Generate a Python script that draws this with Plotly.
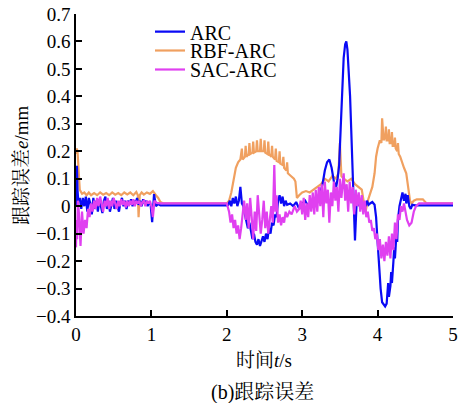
import plotly.graph_objects as go

# ---------------- data ----------------
arc_t = [0.00, 0.012, 0.02, 0.03, 0.05, 0.07, 0.09, 0.11, 0.13, 0.15, 0.17, 0.19, 0.21, 0.23, 0.25, 0.27,
         0.29, 0.31, 0.33, 0.35, 0.37, 0.39, 0.41, 0.43, 0.45, 0.47, 0.49, 0.51, 0.53, 0.55, 0.57, 0.59,
         0.61, 0.63, 0.65, 0.67, 0.69, 0.71, 0.73, 0.75, 0.77, 0.79, 0.81, 0.83, 0.85, 0.87, 0.89, 0.91,
         0.93, 0.95, 0.97, 0.99, 1.01, 1.035, 1.06, 1.09, 1.12,
         2.00, 2.02, 2.04, 2.06, 2.08, 2.10, 2.12, 2.14, 2.16, 2.18, 2.20, 2.22, 2.24, 2.26, 2.28, 2.30,
         2.32, 2.34, 2.36, 2.38, 2.40, 2.42, 2.44, 2.46, 2.48, 2.50, 2.52, 2.54, 2.56, 2.58, 2.60, 2.62,
         2.64, 2.66, 2.68, 2.70, 2.72, 2.74, 2.76, 2.78, 2.80, 2.84, 2.88, 2.92, 2.96, 3.00, 3.04, 3.08,
         3.12, 3.16, 3.20, 3.24, 3.27, 3.30, 3.33, 3.36, 3.39, 3.42, 3.45, 3.47, 3.49, 3.51, 3.53, 3.55,
         3.57, 3.585, 3.60, 3.62, 3.635, 3.65, 3.665, 3.68, 3.69, 3.70, 3.71, 3.72, 3.74, 3.76, 3.78, 3.80,
         3.82, 3.84, 3.86, 3.88, 3.90, 3.93, 3.96, 3.98, 4.00, 4.02, 4.04, 4.06, 4.08, 4.10, 4.12, 4.13,
         4.14, 4.15, 4.17, 4.18, 4.19, 4.21, 4.22, 4.23, 4.25, 4.26, 4.27, 4.29, 4.31, 4.33, 4.35, 4.37,
         4.38, 4.40, 4.42, 4.44, 4.46, 4.50, 4.60, 5.00]
arc_v = [0.00, 0.147, 0.06, 0.02, 0.03, -0.01, 0.03, 0.00, 0.035, -0.02, 0.03, 0.01, -0.03, 0.03, -0.01, 0.02,
         -0.02, 0.025, 0.00, -0.025, 0.02, 0.035, -0.01, 0.02, -0.02, 0.01, 0.03, -0.01, 0.02, 0.00, -0.02, 0.015,
         0.03, 0.00, 0.02, -0.01, 0.02, 0.005, 0.025, 0.00, 0.02, 0.01, 0.03, 0.005, 0.02, 0.00, 0.025, 0.01,
         0.02, 0.00, 0.015, 0.005, -0.058, 0.044, 0.00, 0.008, 0.003,
         0.003, 0.005, 0.02, 0.00, 0.03, 0.01, 0.035, 0.00, 0.02, 0.07, 0.01, 0.00, -0.03, -0.05, -0.08, -0.06,
         -0.10, -0.12, -0.10, -0.13, -0.14, -0.12, -0.145, -0.13, -0.11, -0.13, -0.10, -0.12, -0.08, -0.10, -0.06, -0.07,
         -0.03, -0.04, 0.02, 0.04, 0.01, 0.035, 0.00, 0.02, 0.005, 0.01, 0.00, 0.015, -0.01, 0.01, 0.02, 0.00,
         0.015, 0.01, 0.02, 0.05, 0.08, 0.13, 0.16, 0.17, 0.14, 0.09, 0.07, 0.10, 0.15, 0.28, 0.42, 0.54,
         0.59, 0.60, 0.57, 0.48, 0.40, 0.28, 0.14, 0.00, -0.08, -0.125, -0.06, 0.00, 0.02, 0.00, 0.015, -0.01,
         0.01, 0.00, 0.02, 0.005, 0.01, 0.015, 0.005, -0.04, -0.13, -0.22, -0.30, -0.35, -0.36, -0.365, -0.355, -0.33,
         -0.28, -0.33, -0.29, -0.24, -0.28, -0.20, -0.15, -0.19, -0.10, -0.13, -0.05, 0.00, 0.03, 0.05, 0.02, 0.045,
         0.01, 0.04, 0.00, -0.01, 0.005, 0.003, 0.003, 0.003]

rbf_t = [0.00, 0.01, 0.02, 0.035, 0.05, 0.08, 0.11, 0.14, 0.17, 0.20, 0.24, 0.28, 0.32, 0.36, 0.40, 0.44,
         0.48, 0.52, 0.56, 0.60, 0.64, 0.68, 0.72, 0.76, 0.80, 0.82, 0.83, 0.845, 0.87, 0.90, 0.94, 0.98,
         1.02, 1.06, 1.09, 1.12, 1.16,
         2.00, 2.03, 2.06, 2.09, 2.12, 2.15, 2.18, 2.20, 2.21, 2.24, 2.25, 2.26, 2.29, 2.30, 2.31, 2.34,
         2.35, 2.36, 2.39, 2.40, 2.41, 2.44, 2.45, 2.46, 2.49, 2.50, 2.51, 2.54, 2.55, 2.56, 2.59, 2.60,
         2.61, 2.64, 2.65, 2.66, 2.69, 2.70, 2.71, 2.74, 2.75, 2.76, 2.79, 2.80, 2.81, 2.85, 2.89, 2.91,
         2.93, 2.96, 3.00, 3.05, 3.10, 3.15, 3.20, 3.25, 3.30, 3.35, 3.40, 3.45, 3.48, 3.50, 3.52, 3.55,
         3.60, 3.65, 3.70, 3.75, 3.79, 3.82, 3.84, 3.87, 3.90, 3.93, 3.96, 3.98, 4.00, 4.03, 4.05, 4.06,
         4.08, 4.10, 4.11, 4.12, 4.14, 4.15, 4.16, 4.18, 4.19, 4.20, 4.22, 4.23, 4.24, 4.26, 4.27, 4.28,
         4.30, 4.32, 4.35, 4.38, 4.41, 4.43, 4.45, 4.48, 4.52, 4.60, 4.65, 4.68, 5.00]
rbf_v = [0.19, 0.21, 0.20, 0.10, 0.06, 0.045, 0.05, 0.04, 0.05, 0.04, 0.048, 0.04, 0.05, 0.042, 0.048, 0.04,
         0.05, 0.042, 0.048, 0.04, 0.05, 0.043, 0.05, 0.04, 0.052, 0.04, -0.04, 0.04, 0.05, 0.042, 0.05, 0.045,
         0.055, 0.04, 0.03, 0.015, 0.01,
         0.01, 0.02, 0.05, 0.10, 0.14, 0.16, 0.17, 0.21, 0.17, 0.18, 0.22, 0.18, 0.19, 0.23, 0.19, 0.195,
         0.235, 0.195, 0.20, 0.24, 0.20, 0.20, 0.245, 0.20, 0.20, 0.24, 0.195, 0.19, 0.235, 0.19, 0.18, 0.22,
         0.18, 0.17, 0.21, 0.165, 0.16, 0.20, 0.155, 0.15, 0.18, 0.14, 0.13, 0.16, 0.12, 0.11, 0.10, 0.09,
         0.03, 0.04, 0.05, 0.055, 0.05, 0.06, 0.07, 0.08, 0.10, 0.09, 0.11, 0.10, 0.12, 0.23, 0.11, 0.10,
         0.09, 0.10, 0.08, 0.07, 0.06, 0.01, -0.02, 0.02, 0.05, 0.07, 0.12, 0.18, 0.21, 0.24, 0.23, 0.32,
         0.24, 0.25, 0.29, 0.24, 0.24, 0.28, 0.23, 0.23, 0.27, 0.22, 0.22, 0.25, 0.21, 0.20, 0.23, 0.19,
         0.18, 0.16, 0.14, 0.12, 0.06, 0.02, 0.01, 0.02, 0.025, 0.025, 0.01, 0.01, 0.01]

sac_t = [0.00, 0.008, 0.015, 0.025, 0.04, 0.06, 0.08, 0.10, 0.12, 0.14, 0.16, 0.18, 0.20, 0.22, 0.24, 0.26,
         0.28, 0.30, 0.32, 0.34, 0.36, 0.38, 0.40, 0.42, 0.44, 0.46, 0.48, 0.50, 0.52, 0.54, 0.56, 0.58,
         0.60, 0.62, 0.64, 0.66, 0.68, 0.70, 0.72, 0.74, 0.76, 0.78, 0.80, 0.82, 0.84, 0.86, 0.88, 0.90,
         0.92, 0.94, 0.96, 0.98, 1.00, 1.02, 1.04, 1.07, 1.12,
         2.00, 2.03, 2.05, 2.07, 2.09, 2.11, 2.13, 2.15, 2.17, 2.19, 2.21, 2.23, 2.25, 2.27, 2.29, 2.31,
         2.33, 2.35, 2.37, 2.39, 2.41, 2.43, 2.45, 2.47, 2.49, 2.51, 2.53, 2.55, 2.57, 2.59, 2.61, 2.63,
         2.645, 2.66, 2.68, 2.70, 2.72, 2.74, 2.76, 2.78, 2.80, 2.83, 2.86, 2.90, 2.93, 2.96, 2.98, 3.00,
         3.02, 3.04, 3.06, 3.08, 3.10, 3.12, 3.14, 3.16, 3.18, 3.20, 3.22, 3.24, 3.26, 3.28, 3.30, 3.32,
         3.34, 3.36, 3.38, 3.40, 3.42, 3.44, 3.46, 3.48, 3.50, 3.52, 3.55, 3.57, 3.59, 3.61, 3.63, 3.65,
         3.67, 3.69, 3.71, 3.73, 3.75, 3.77, 3.79, 3.81, 3.83, 3.85, 3.87, 3.89, 3.91, 3.93, 3.95, 3.97,
         3.99, 4.01, 4.03, 4.05, 4.07, 4.09, 4.11, 4.13, 4.15, 4.17, 4.19, 4.21, 4.23, 4.25, 4.27, 4.29,
         4.31, 4.33, 4.35, 4.37, 4.39, 4.42, 4.45, 4.48, 4.51, 4.55, 5.00]
sac_v = [-0.15, -0.05, -0.12, 0.02, -0.03, -0.145, -0.02, -0.10, -0.05, -0.08, -0.01, -0.04, 0.01, -0.02, 0.02, -0.01,
         0.03, 0.00, 0.035, 0.01, -0.02, 0.02, 0.00, 0.03, -0.01, 0.02, 0.00, 0.03, 0.01, -0.01, 0.02, 0.00,
         0.025, 0.005, 0.02, -0.005, 0.02, 0.00, 0.02, 0.005, 0.025, 0.00, 0.02, 0.01, 0.02, 0.00, 0.015, 0.02,
         0.00, 0.02, 0.01, 0.02, 0.00, -0.04, 0.02, 0.012, 0.01,
         0.01, -0.02, -0.06, -0.03, -0.08, -0.05, -0.10, -0.07, -0.12, -0.08, -0.04, 0.02, -0.05, 0.01, -0.08, 0.03,
         -0.04, -0.12, -0.02, -0.09, 0.04, -0.03, -0.10, -0.05, 0.02, -0.08, -0.02, -0.10, -0.04, 0.00, -0.06, 0.15,
         -0.02, 0.04, -0.06, -0.03, -0.07, -0.04, -0.06, -0.02, -0.04, -0.02, -0.03, 0.00, -0.02, -0.01, 0.02, -0.03,
         0.03, -0.05, 0.01, -0.04, 0.04, -0.02, 0.05, -0.03, 0.06, -0.02, 0.07, 0.00, 0.08, -0.04, 0.09, 0.01,
         0.06, -0.06, 0.05, 0.00, 0.09, 0.02, 0.07, -0.02, 0.10, 0.03, 0.12, 0.02, 0.08, -0.02, 0.09, 0.01,
         0.07, -0.03, 0.06, 0.00, 0.05, -0.02, 0.04, -0.03, 0.02, -0.04, -0.02, -0.06, -0.05, -0.09, -0.08, -0.12,
         -0.10, -0.16, -0.12, -0.19, -0.14, -0.20, -0.13, -0.18, -0.11, -0.19, -0.10, -0.16, -0.06, -0.12, -0.03, -0.05,
         0.00, -0.02, 0.01, -0.02, -0.05, -0.07, -0.06, -0.02, 0.00, 0.01, 0.01]

x_ticks = [0, 1, 2, 3, 4, 5]
y_ticks = [0.7, 0.6, 0.5, 0.4, 0.3, 0.2, 0.1, 0, -0.1, -0.2, -0.3, -0.4]
y_tick_text = ["0.7", "0.6", "0.5", "0.4", "0.3", "0.2", "0.1", "0", "\u22120.1", "\u22120.2", "\u22120.3", "\u22120.4"]

series_names = ["ARC", "RBF-ARC", "SAC-ARC"]
x_title = "时间<i>t</i>/s"
y_title = "跟踪误差<i>e</i>/mm"
caption = "(b)跟踪误差"

# ---------------- figure ----------------
SERIF = "Liberation Serif, Noto Serif CJK SC, Noto Sans CJK SC, serif"
COL = {"ARC": "#0a0af5", "RBF-ARC": "#f0a060", "SAC-ARC": "#e040f0"}

fig = go.Figure()
fig.add_trace(go.Scatter(x=rbf_t, y=rbf_v, mode="lines", name=series_names[1],
                         line=dict(color=COL["RBF-ARC"], width=2.2), legend="legend2"))
fig.add_trace(go.Scatter(x=arc_t, y=arc_v, mode="lines", name=series_names[0],
                         line=dict(color=COL["ARC"], width=2.2), legend="legend"))
fig.add_trace(go.Scatter(x=sac_t, y=sac_v, mode="lines", name=series_names[2],
                         line=dict(color=COL["SAC-ARC"], width=2.2), legend="legend3"))

L, R, T, B = 76, 7, 14, 87
W, H = 460, 403
pw, ph = W - L - R, H - T - B

def px_x(px):
    return (px - L) / pw

def px_y(py):
    return (H - B - py) / ph

leg_common = dict(xanchor="left", yanchor="middle", bgcolor="rgba(0,0,0,0)",
                  font=dict(family=SERIF, size=20, color="black"), borderwidth=0)
fig.update_layout(
    width=W, height=H,
    margin=dict(l=L, r=R, t=T, b=B, pad=0, autoexpand=False),
    paper_bgcolor="white", plot_bgcolor="white",
    showlegend=True,
    legend=dict(x=px_x(150), y=px_y(31.7), **leg_common),
    legend2=dict(x=px_x(150), y=px_y(50.5), **leg_common),
    legend3=dict(x=px_x(150), y=px_y(69.5), **leg_common),
    xaxis=dict(range=[0, 5], tickvals=x_ticks, showgrid=False, zeroline=False, automargin=False,
               showline=True, linecolor="black", linewidth=1.5,
               ticks="inside", ticklen=6, tickwidth=1.5, tickcolor="black",
               tickfont=dict(family=SERIF, size=19, color="black")),
    yaxis=dict(range=[-0.4, 0.7], tickvals=y_ticks, ticktext=y_tick_text, showgrid=False, zeroline=False,
               automargin=False,
               showline=True, linecolor="black", linewidth=1.5,
               ticks="inside", ticklen=6, tickwidth=1.5, tickcolor="black",
               tickfont=dict(family=SERIF, size=19, color="black")),
    annotations=[
        dict(text=x_title, xref="paper", yref="paper", x=px_x(264), y=px_y(360),
             xanchor="center", yanchor="middle", showarrow=False,
             font=dict(family=SERIF, size=19, color="black")),
        dict(text=caption, xref="paper", yref="paper", x=px_x(262), y=px_y(392),
             xanchor="center", yanchor="middle", showarrow=False,
             font=dict(family=SERIF, size=20, color="black")),
        dict(text=y_title, xref="paper", yref="paper", x=px_x(21), y=px_y(165),
             xanchor="center", yanchor="middle", showarrow=False, textangle=-90,
             font=dict(family=SERIF, size=19, color="black")),
    ],
)

fig.write_html("out.html", config={"displayModeBar": False},
               post_script="document.body.style.margin='0';document.body.style.overflow='hidden';")
